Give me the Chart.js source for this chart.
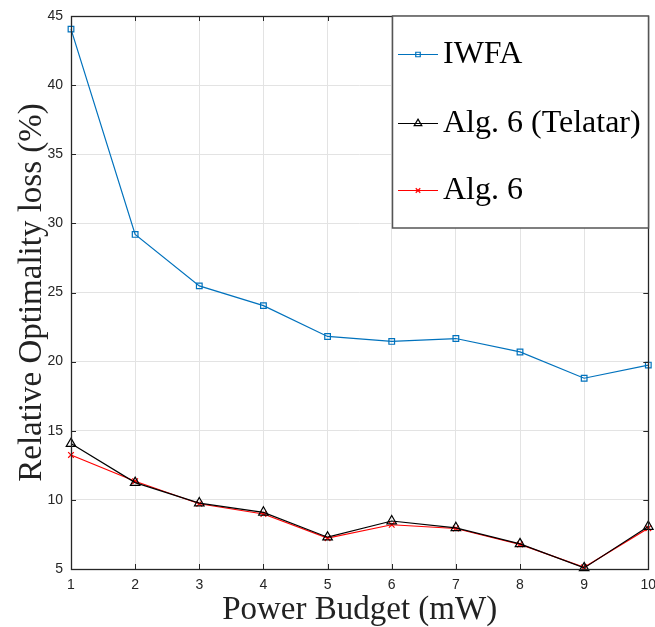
<!DOCTYPE html>
<html>
<head>
<meta charset="utf-8">
<script src="https://cdn.jsdelivr.net/npm/chart.js@4/dist/chart.umd.min.js"></script>
<style>
html,body{margin:0;padding:0;background:#fff;}
#wrap{width:655px;height:627px;position:relative;}
</style>
</head>
<body>
<div id="wrap"><canvas id="c" width="655" height="627"></canvas></div>
<script>
// ---- data ----
const powerBudget = [1, 2, 3, 4, 5, 6, 7, 8, 9, 10];
const iwfa = [44.05, 29.2, 25.48, 24.05, 21.82, 21.46, 21.67, 20.7, 18.8, 19.75];
const alg6Telatar = [14.07, 11.25, 9.77, 9.1, 7.3, 8.47, 7.98, 6.82, 5.08, 8.07];
const alg6 = [13.25, 11.35, 9.72, 8.98, 7.23, 8.2, 7.93, 6.78, 5.12, 7.95];
const seriesLabels = ['IWFA', 'Alg. 6 (Telatar)', 'Alg. 6'];
const xTicks = [1, 2, 3, 4, 5, 6, 7, 8, 9, 10];
const yTicks = [5, 10, 15, 20, 25, 30, 35, 40, 45];
const xTitle = 'Power Budget (mW)';
const yTitle = 'Relative Optimality loss (%)';

const pts = (ys) => powerBudget.map((x, i) => ({x: x, y: ys[i]}));

const AXIS = '#262626';
const serif = '"Liberation Serif", "Times New Roman", serif';
const sans = '"Liberation Sans", Arial, Helvetica, sans-serif';

const boxPlugin = {
  id: 'box',
  afterDatasetsDraw(chart) {
    const {ctx, chartArea: a, scales} = chart;
    ctx.save();
    ctx.strokeStyle = AXIS;
    ctx.lineWidth = 1;
    const tl = 5;
    ctx.beginPath();
    xTicks.forEach(v => {
      const x = Math.round(scales.x.getPixelForValue(v)) + 0.5;
      ctx.moveTo(x, a.bottom); ctx.lineTo(x, a.bottom - tl);
      ctx.moveTo(x, a.top); ctx.lineTo(x, a.top + tl);
    });
    yTicks.forEach(v => {
      const y = Math.round(scales.y.getPixelForValue(v)) + 0.5;
      ctx.moveTo(a.left, y); ctx.lineTo(a.left + tl, y);
      ctx.moveTo(a.right, y); ctx.lineTo(a.right - tl, y);
    });
    ctx.stroke();
    ctx.lineWidth = 1.3;
    ctx.strokeRect(Math.round(a.left) + 0.5, Math.round(a.top) + 0.5, Math.round(a.right - a.left), Math.round(a.bottom - a.top));
    ctx.restore();
  },
  afterDraw(chart) {
    const {ctx} = chart;
    const bx = 392.5, by = 16, bw = 256, bh = 212;
    ctx.save();
    ctx.fillStyle = '#fff';
    ctx.fillRect(bx, by, bw, bh);
    ctx.strokeStyle = '#555';
    ctx.lineWidth = 1.5;
    ctx.strokeRect(bx, by, bw, bh);
    const rows = [54, 123, 190];
    chart.data.datasets.forEach((ds, i) => {
      const y = rows[i];
      ctx.strokeStyle = ds.borderColor;
      ctx.lineWidth = 1.2;
      ctx.beginPath();
      ctx.moveTo(398, y + 0.5); ctx.lineTo(438, y + 0.5);
      ctx.stroke();
      ctx.fillStyle = 'rgba(0,0,0,0)';
      Chart.helpers.drawPoint(ctx, {
        pointStyle: ds.pointStyle,
        radius: ds.pointRadius * 0.8,
        borderWidth: 1.2,
        rotation: 0
      }, 418, y + 0.5);
      ctx.fillStyle = '#000';
      ctx.font = '32px ' + serif;
      ctx.textBaseline = 'middle';
      ctx.textAlign = 'left';
      ctx.fillText(ds.label, 443, y + 1);
    });
    ctx.restore();
  }
};

new Chart(document.getElementById('c'), {
  type: 'line',
  data: {
    datasets: [
      {label: seriesLabels[0], data: pts(iwfa), borderColor: '#0072BD', backgroundColor: 'rgba(0,0,0,0)',
       borderWidth: 1.2, pointStyle: 'rect', pointRadius: 4, pointBorderWidth: 1.2, pointBackgroundColor: 'rgba(0,0,0,0)', clip: false},
      {label: seriesLabels[1], data: pts(alg6Telatar), borderColor: '#000000', backgroundColor: 'rgba(0,0,0,0)',
       borderWidth: 1.2, pointStyle: 'triangle', pointRadius: 5.5, pointBorderWidth: 1.2, pointBackgroundColor: 'rgba(0,0,0,0)', clip: false},
      {label: seriesLabels[2], data: pts(alg6), borderColor: '#FF0000', backgroundColor: 'rgba(0,0,0,0)',
       borderWidth: 1.2, pointStyle: 'crossRot', pointRadius: 4, pointBorderWidth: 1.2, pointBackgroundColor: 'rgba(0,0,0,0)', clip: false}
    ]
  },
  options: {
    responsive: false,
    animation: false,
    devicePixelRatio: 1,
    layout: {padding: {top: 16, right: 6, left: 0, bottom: 0}},
    plugins: {legend: {display: false}, tooltip: {enabled: false}},
    scales: {
      x: {
        type: 'linear', min: 1, max: 10,
        afterBuildTicks(s) { s.ticks = xTicks.map(v => ({value: v})); },
        afterFit(s) { s.height = 58; s.paddingRight = 0; s.paddingLeft = 0; },
        grid: {color: '#e3e3e3', lineWidth: 1, drawTicks: false},
        border: {display: false},
        ticks: {color: AXIS, font: {family: sans, size: 14}, padding: 8, maxRotation: 0, autoSkip: false},
        title: {display: true, text: xTitle, color: '#222', font: {family: serif, size: 33, lineHeight: 1.0}, padding: {top: 0, bottom: 0}}
      },
      y: {
        type: 'linear', min: 5, max: 45,
        afterBuildTicks(s) { s.ticks = yTicks.map(v => ({value: v})); },
        afterFit(s) { s.width = 71; s.paddingTop = 0; s.paddingBottom = 0; },
        grid: {color: '#e3e3e3', lineWidth: 1, drawTicks: false},
        border: {display: false},
        ticks: {color: AXIS, font: {family: sans, size: 14}, padding: 8, autoSkip: false},
        title: {display: true, text: yTitle, color: '#222', font: {family: serif, size: 33, lineHeight: 1.0}, padding: {top: 16, bottom: 0}}
      }
    }
  },
  plugins: [boxPlugin]
});
</script>
</body>
</html>
